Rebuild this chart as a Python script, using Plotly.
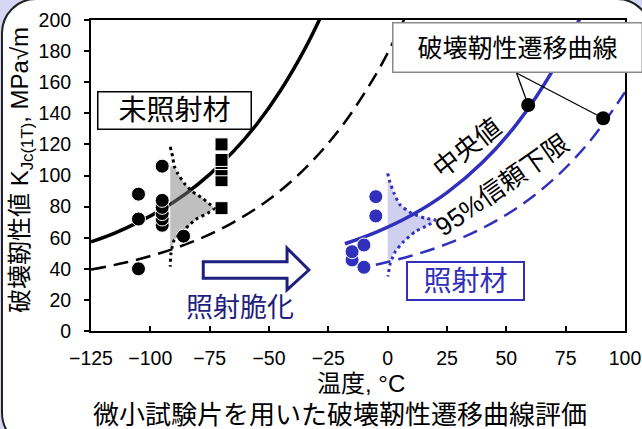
import plotly.graph_objects as go

# ---------------- data ----------------
# unirradiated material test data (temperature degC, K_Jc MPa sqrt m)
unirr_circle_T = [-105, -105, -105, -86, -95, -95, -95, -95, -95, -95]
unirr_circle_K = [40, 72, 88, 61, 68, 72, 75.5, 79.5, 84, 106]
unirr_square_T = [-70, -70, -70, -70, -70, -70]
unirr_square_K = [79, 97, 104, 108, 110, 120]

# irradiated material test data
irr_circle_T = [-10, -15, -15, -10, -5, -5]
irr_circle_K = [41, 45.7, 51, 55.3, 74, 86.4]

# master curves (median) and 95% lower confidence bounds
unirr_med_T = [-125, -115, -105, -95, -85, -75, -65, -55, -45, -35, -28]
unirr_med_K = [57.3, 63.0, 70.0, 78.3, 88.4, 100.7, 115.5, 133.3, 155.0, 181.1, 202.6]
unirr_low_T = [-125, -110, -95, -80, -65, -50, -35, -20, -5, 5, 10]
unirr_low_K = [39.5, 44.2, 50.5, 58.8, 69.9, 84.6, 104.2, 130.3, 164.9, 194.1, 211.0]

irr_med_T = [-18, -5, 10, 25, 40, 55, 70, 82]
irr_med_K = [56.1, 63.4, 74.4, 89.0, 108.5, 134.3, 168.7, 204.3]
irr_low_T = [-5, 10, 25, 40, 55, 70, 85, 100]
irr_low_K = [42.6, 48.4, 56.0, 66.2, 79.7, 97.7, 121.7, 153.5]

# scatter distributions drawn sideways at the test temperature
unirr_dist_base = -91.6
unirr_dist_T = [-91.6, -90.6, -89.9, -88.5, -85.7, -82.2, -78.0, -74.5, -73.1,
                -75.9, -80.1, -83.6, -86.4, -89.9, -90.8, -91.3, -91.6]
unirr_dist_K = [118.5, 112, 106, 101.4, 95, 89.6, 85.3, 81, 78.9,
                75.7, 72.5, 68.2, 63.9, 58.5, 54, 50, 41.4]
unirr_fill_range = (54, 106)

irr_dist_base = 0
irr_dist_T = [0, 0.7, 2.7, 5.3, 10.2, 15.8, 20, 17.2, 11.6, 6.7, 3.2, 1.1, 0.1]
irr_dist_K = [101.4, 97, 88.5, 81, 75.7, 72.5, 71.4, 68.2, 63.9, 57.4, 51, 43.5, 35]
irr_fill_range = (45, 97)

# highlighted points on the curves
pointer_T = [59.2, 90.8]
pointer_K = [145.3, 136.8]
pointer_origin = (54.3, 165.9)

x_ticks = [-125, -100, -75, -50, -25, 0, 25, 50, 75, 100]
y_ticks = [0, 20, 40, 60, 80, 100, 120, 140, 160, 180, 200]

# ---------------- styles ----------------
FONT = "Liberation Sans, Noto Sans CJK JP, sans-serif"
BLUE = "#3030bc"
NAVY = "#1f1f80"
GRAY_FILL = "rgba(128,128,128,0.5)"
BLUE_FILL = "#cfcfef"
DASH = "15px,8px"
DOT = "3px,3.5px"


def fill_poly(base, T, K, rng):
    lo, hi = rng
    xs = [base]
    ys = [hi]
    for t, k in zip(T, K):
        if lo <= k <= hi:
            xs.append(t)
            ys.append(k)
    xs.append(base)
    ys.append(lo)
    return xs, ys


fig = go.Figure()

# irradiated fill (below curve)
bx, by = fill_poly(irr_dist_base, irr_dist_T, irr_dist_K, irr_fill_range)
fig.add_trace(go.Scatter(x=bx, y=by, mode="lines", fill="toself",
                         fillcolor=BLUE_FILL, line=dict(width=0), hoverinfo="skip"))

# curves
fig.add_trace(go.Scatter(x=unirr_med_T, y=unirr_med_K, mode="lines",
                         line=dict(color="black", width=3.5, shape="spline")))
fig.add_trace(go.Scatter(x=unirr_low_T, y=unirr_low_K, mode="lines",
                         line=dict(color="black", width=2.5, dash=DASH, shape="spline")))
fig.add_trace(go.Scatter(x=irr_med_T, y=irr_med_K, mode="lines",
                         line=dict(color=BLUE, width=3.5, shape="spline")))
fig.add_trace(go.Scatter(x=irr_low_T, y=irr_low_K, mode="lines",
                         line=dict(color=BLUE, width=2.5, dash=DASH, shape="spline")))

# unirradiated gray fill (above curve, semi-transparent)
gx, gy = fill_poly(unirr_dist_base, unirr_dist_T, unirr_dist_K, unirr_fill_range)
fig.add_trace(go.Scatter(x=gx, y=gy, mode="lines", fill="toself",
                         fillcolor=GRAY_FILL, line=dict(width=0), hoverinfo="skip"))

# data points
fig.add_trace(go.Scatter(x=unirr_circle_T, y=unirr_circle_K, mode="markers",
                         marker=dict(symbol="circle", size=14, color="black",
                                     line=dict(color="white", width=1))))
fig.add_trace(go.Scatter(x=unirr_square_T, y=unirr_square_K, mode="markers",
                         marker=dict(symbol="square", size=13, color="black",
                                     line=dict(color="white", width=1))))
fig.add_trace(go.Scatter(x=irr_circle_T, y=irr_circle_K, mode="markers",
                         marker=dict(symbol="circle", size=14, color=BLUE,
                                     line=dict(color="white", width=1))))

# dotted distributions
fig.add_trace(go.Scatter(x=unirr_dist_T, y=unirr_dist_K, mode="lines",
                         line=dict(color="black", width=3, dash=DOT, shape="spline", smoothing=0.6)))
fig.add_trace(go.Scatter(x=irr_dist_T, y=irr_dist_K, mode="lines",
                         line=dict(color=BLUE, width=3, dash=DOT, shape="spline", smoothing=0.6)))

# pointer lines and dots
for t, k in zip(pointer_T, pointer_K):
    fig.add_trace(go.Scatter(x=[pointer_origin[0], t], y=[pointer_origin[1], k], mode="lines",
                             line=dict(color="black", width=1.3)))
fig.add_trace(go.Scatter(x=pointer_T, y=pointer_K, mode="markers",
                         marker=dict(size=14, color="black")))

# ---------------- layout ----------------
ML, MR, MT, MB = 91, 17, 20, 98
W, H = 642, 429
PW, PH = W - ML - MR, H - MT - MB


def P(px, py):
    return (px - ML) / PW, (H - MB - py) / PH


def panel_path(l, t, r, b, rad):
    k = 0.5523 * rad
    pts = [
        ("M", [(l + rad, t)]),
        ("L", [(r - rad, t)]),
        ("C", [(r - rad + k, t), (r, t + rad - k), (r, t + rad)]),
        ("L", [(r, b - rad)]),
        ("C", [(r, b - rad + k), (r - rad + k, b), (r - rad, b)]),
        ("L", [(l + rad, b)]),
        ("C", [(l + rad - k, b), (l, b - rad + k), (l, b - rad)]),
        ("L", [(l, t + rad)]),
        ("C", [(l, t + rad - k), (l + rad - k, t), (l + rad, t)]),
    ]
    s = ""
    for cmd, ps in pts:
        s += cmd + " " + " ".join("%.5f,%.5f" % P(x, y) for x, y in ps) + " "
    return s + "Z"


shapes = [
    dict(type="path", xref="paper", yref="paper", layer="below",
         path=panel_path(2, -1, 651, 447, 34),
         fillcolor="white", line=dict(color="#222222", width=2)),
    dict(type="path", xref="x", yref="y", layer="above",
         path="M -77.7,44.5 L -42.4,44.5 L -42.4,53.3 L -33.2,39.2 L -42.4,26.4 "
              "L -42.4,33.9 L -77.7,33.9 Z",
         fillcolor="white", line=dict(color=NAVY, width=3)),
]

annotations = [
    dict(x=-89.9, y=141.5, xref="x", yref="y", text="未照射材", showarrow=False,
         font=dict(family=FONT, size=28, color="black"), bgcolor="white",
         bordercolor="black", borderwidth=1.5, borderpad=1, width=150, height=34),
    dict(x=33, y=32.2, xref="x", yref="y", text="照射材", showarrow=False,
         font=dict(family=FONT, size=28, color=BLUE), bgcolor="white",
         bordercolor=BLUE, borderwidth=2, borderpad=1, width=113, height=34),
    dict(x=54.5, y=182.3, xref="x", yref="y", text="破壊靭性遷移曲線", showarrow=False,
         font=dict(family=FONT, size=25, color="black"), bgcolor="white",
         bordercolor="#8a8a8a", borderwidth=1.5, borderpad=1, width=246, height=46),
    dict(x=-62.1, y=14.8, xref="x", yref="y", text="照射脆化", showarrow=False,
         font=dict(family=FONT, size=27, color=NAVY)),
    dict(x=33.4, y=118, xref="x", yref="y", text="中央値", showarrow=False,
         textangle=-38, font=dict(family=FONT, size=26, color="black")),
    dict(x=48.3, y=93.9, xref="x", yref="y", text="95%信頼下限", showarrow=False,
         textangle=-35, font=dict(family=FONT, size=26, color="black")),
    # axis titles
    dict(x=P(21, 0)[0], y=P(0, 170)[1], xref="paper", yref="paper",
         text="破壊靭性値 K<sub>Jc(1T)</sub>, MPa√m", showarrow=False, textangle=-90,
         xanchor="center", yanchor="middle",
         font=dict(family=FONT, size=24, color="black")),
    dict(x=P(361, 0)[0], y=P(0, 383)[1], xref="paper", yref="paper",
         text="温度, °C", showarrow=False, xanchor="center", yanchor="middle",
         font=dict(family=FONT, size=24, color="black")),
    # caption
    dict(x=P(340, 0)[0], y=P(0, 415)[1], xref="paper", yref="paper",
         text="微小試験片を用いた破壊靭性遷移曲線評価", showarrow=False,
         xanchor="center", yanchor="middle",
         font=dict(family=FONT, size=26, color="black")),
]

fig.update_layout(
    width=W, height=H,
    margin=dict(l=ML, r=MR, t=MT, b=MB, autoexpand=False),
    paper_bgcolor="#d6d6f5",
    plot_bgcolor="rgba(0,0,0,0)",
    showlegend=False,
    font=dict(family=FONT, size=20, color="black"),
    shapes=shapes,
    annotations=annotations,
    xaxis=dict(range=[-125, 100], tickvals=x_ticks, showgrid=False, zeroline=False,
               showline=True, linecolor="black", linewidth=2, mirror=True,
               ticks="inside", ticklen=5, tickwidth=1.5, tickcolor="black",
               tickfont=dict(family=FONT, size=19.5, color="black"),
               ticklabelstandoff=9, ticklabeloverflow="allow"),
    yaxis=dict(range=[0, 200], tickvals=y_ticks, showgrid=False, zeroline=False,
               showline=True, linecolor="black", linewidth=2, mirror=True,
               ticks="outside", ticklen=5, tickwidth=1.5, tickcolor="black",
               tickfont=dict(family=FONT, size=19.5, color="black"),
               ticklabelstandoff=9, ticklabeloverflow="allow"),
)

fig.write_html("out.html",
               config={"displayModeBar": False},
               post_script="document.body.style.margin='0';"
                           "document.body.style.overflow='hidden';")
